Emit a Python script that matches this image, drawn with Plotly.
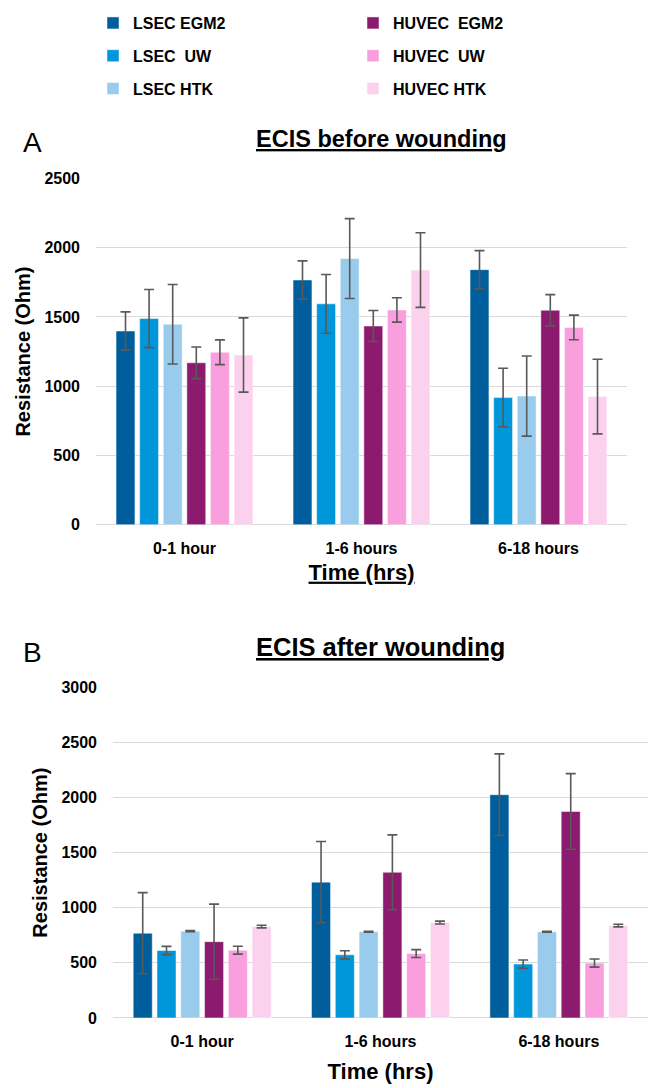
import plotly.graph_objects as go

categories = ["0-1 hour", "1-6 hours", "6-18 hours"]
series_names = ["LSEC EGM2", "LSEC  UW", "LSEC HTK", "HUVEC  EGM2", "HUVEC  UW", "HUVEC HTK"]
colors = ["#005E9C", "#0096DA", "#99CBEC", "#8C1A6E", "#F99FDD", "#FCD1EE"]

# Panel A: before wounding (mean, error)
before_lsec_egm2 = [1398, 1766, 1841]
before_lsec_uw = [1488, 1594, 918]
before_lsec_htk = [1447, 1921, 929]
before_huvec_egm2 = [1169, 1434, 1548]
before_huvec_uw = [1245, 1550, 1424]
before_huvec_htk = [1225, 1838, 925]
before_err_lsec_egm2 = [138, 138, 137]
before_err_lsec_uw = [210, 212, 211]
before_err_lsec_htk = [287, 288, 289]
before_err_huvec_egm2 = [114, 112, 113]
before_err_huvec_uw = [89, 88, 89]
before_err_huvec_htk = [268, 269, 269]

# Panel B: after wounding (mean, error)
after_lsec_egm2 = [769, 1232, 2025]
after_lsec_uw = [612, 573, 489]
after_lsec_htk = [787, 781, 781]
after_huvec_egm2 = [692, 1321, 1873]
after_huvec_uw = [615, 584, 498]
after_huvec_htk = [829, 865, 838]
after_err_lsec_egm2 = [368, 368, 370]
after_err_lsec_uw = [37, 37, 37]
after_err_lsec_htk = [5, 4, 4]
after_err_huvec_egm2 = [341, 340, 343]
after_err_huvec_uw = [36, 36, 37]
after_err_huvec_htk = [12, 13, 12]

before_vals = [before_lsec_egm2, before_lsec_uw, before_lsec_htk,
               before_huvec_egm2, before_huvec_uw, before_huvec_htk]
before_errs = [before_err_lsec_egm2, before_err_lsec_uw, before_err_lsec_htk,
               before_err_huvec_egm2, before_err_huvec_uw, before_err_huvec_htk]
after_vals = [after_lsec_egm2, after_lsec_uw, after_lsec_htk,
              after_huvec_egm2, after_huvec_uw, after_huvec_htk]
after_errs = [after_err_lsec_egm2, after_err_lsec_uw, after_err_lsec_htk,
              after_err_huvec_egm2, after_err_huvec_uw, after_err_huvec_htk]

FONT = "Liberation Sans, Arial, sans-serif"
ERR = dict(type="data", visible=True, color="#595959", thickness=1.6, width=5)

fig = go.Figure()
for i, name in enumerate(series_names):
    fig.add_trace(go.Bar(
        x=categories, y=before_vals[i], name=name,
        marker=dict(color=colors[i], line=dict(width=0.8, color="rgba(255,255,255,0.6)")),
        error_y=dict(array=before_errs[i], **ERR),
        xaxis="x", yaxis="y", offsetgroup=str(i),
        legend="legend" if i < 3 else "legend2",
        legendgroup=name, showlegend=True,
    ))
for i, name in enumerate(series_names):
    fig.add_trace(go.Bar(
        x=categories, y=after_vals[i], name=name,
        marker=dict(color=colors[i], line=dict(width=0.8, color="rgba(255,255,255,0.6)")),
        error_y=dict(array=after_errs[i], **ERR),
        xaxis="x2", yaxis="y2", offsetgroup=str(i),
        legendgroup=name, showlegend=False,
    ))

axis_y_common = dict(
    showgrid=True, gridcolor="#D9D9D9", gridwidth=1,
    zeroline=True, zerolinecolor="#D9D9D9", zerolinewidth=1,
    showline=False, ticks="", ticklabelstandoff=15,
    tickfont=dict(family=FONT, size=16, color="#000000", weight="bold"),
)
axis_x_common = dict(
    showgrid=False, zeroline=False, showline=False, ticks="",
    ticklabelstandoff=12,
    tickfont=dict(family=FONT, size=16, color="#000000", weight="bold"),
)
ytitle_font = dict(family=FONT, size=20, color="#000000", weight="bold")
xtitle_font = dict(family=FONT, size=22, color="#000000", weight="bold")

legend_common = dict(
    orientation="v", xanchor="left", yanchor="top",
    font=dict(family=FONT, size=16, color="#000000", weight="bold"),
    bgcolor="rgba(0,0,0,0)", tracegroupgap=9, itemwidth=30,
)

fig.update_layout(
    width=648, height=1088,
    margin=dict(l=0, r=0, t=0, b=0),
    paper_bgcolor="white", plot_bgcolor="white",
    barmode="group", bargap=0.2, bargroupgap=0.2,
    xaxis=dict(domain=[96/648, 627/648], anchor="y",
               title=dict(text="<u>Time (hrs)</u>", standoff=8, font=xtitle_font),
               **axis_x_common),
    yaxis=dict(domain=[1-525/1088, 1-173/1088], anchor="x", range=[0, 2500],
               dtick=500,
               title=dict(text="Resistance (Ohm)", standoff=8, font=ytitle_font),
               **axis_y_common),
    xaxis2=dict(domain=[113/648, 1.0], anchor="y2",
                title=dict(text="Time (hrs)", standoff=14, font=xtitle_font),
                **axis_x_common),
    yaxis2=dict(domain=[1-1026/1088, 1-690/1088], anchor="x2", range=[0, 3000],
                dtick=500,
                title=dict(text="Resistance (Ohm)", standoff=8, font=ytitle_font),
                **axis_y_common),
    legend=dict(x=93/648, y=1+2/1088, **legend_common),
    legend2=dict(x=353/648, y=1+2/1088, **legend_common),
    annotations=[
        dict(text="<u>ECIS before wounding</u>", x=382/648, y=1-133/1088,
             xref="paper", yref="paper", xanchor="center", yanchor="middle",
             showarrow=False,
             font=dict(family=FONT, size=23.5, color="#000000", weight="bold")),
        dict(text="<u>ECIS after wounding</u>", x=381/648, y=1-649/1088,
             xref="paper", yref="paper", xanchor="center", yanchor="middle",
             showarrow=False,
             font=dict(family=FONT, size=25.5, color="#000000", weight="bold")),
        dict(text="A", x=32.5/648, y=1-137/1088, xref="paper", yref="paper",
             xanchor="center", yanchor="middle",
             showarrow=False, font=dict(family=FONT, size=28, color="#000000")),
        dict(text="B", x=32.5/648, y=1-655/1088, xref="paper", yref="paper",
             xanchor="center", yanchor="middle",
             showarrow=False, font=dict(family=FONT, size=28, color="#000000")),
    ],
)

fig.write_html("out.html", config={"displayModeBar": False},
               post_script="document.body.style.margin='0';")
